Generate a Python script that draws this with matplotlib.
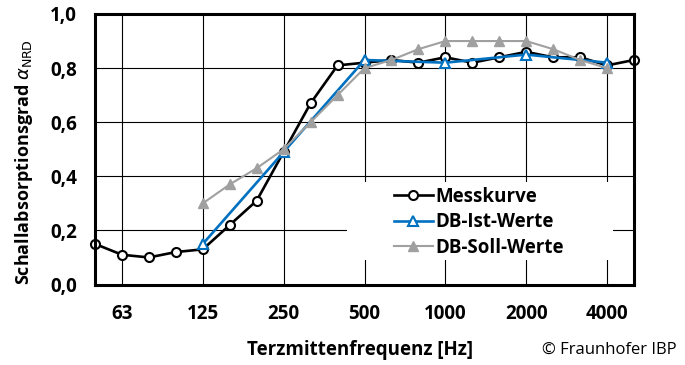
import matplotlib
matplotlib.use("Agg")
import matplotlib.pyplot as plt
from matplotlib.patches import Rectangle

plt.rcParams['font.family'] = ['Open Sans', 'DejaVu Sans']

freqs = ["50", "63", "80", "100", "125", "160", "200", "250", "315", "400", "500",
         "630", "800", "1000", "1250", "1600", "2000", "2500", "3150", "4000", "5000"]
mess = [0.15, 0.11, 0.10, 0.12, 0.13, 0.22, 0.31, 0.49, 0.67, 0.81, 0.82,
        0.83, 0.82, 0.84, 0.82, 0.84, 0.86, 0.84, 0.84, 0.81, 0.83]
ist_freqs = ["125", "250", "500", "1000", "2000", "4000"]
ist = [0.15, 0.49, 0.83, 0.82, 0.85, 0.82]
soll_freqs = ["125", "160", "200", "250", "315", "400", "500", "630", "800",
              "1000", "1250", "1600", "2000", "2500", "3150", "4000"]
soll = [0.30, 0.37, 0.43, 0.50, 0.60, 0.70, 0.80, 0.83, 0.87,
        0.90, 0.90, 0.90, 0.90, 0.87, 0.83, 0.80]
xtick_labels = ["63", "125", "250", "500", "1000", "2000", "4000"]
ytick_vals = [0.0, 0.2, 0.4, 0.6, 0.8, 1.0]

idx = {f: i for i, f in enumerate(freqs)}

fig = plt.figure(figsize=(6.85, 3.65), dpi=100)
ax = fig.add_axes([95/685, 1-284.5/365, 539/685, 270.5/365])

ax.plot([idx[f] for f in freqs], mess, color='black', lw=1.9, marker='o', ms=6.5,
        mfc='white', mec='black', mew=1.5, label='Messkurve', zorder=4, clip_on=False)
ax.plot([idx[f] for f in ist_freqs], ist, color='#0070C0', lw=1.9, marker='^', ms=7.5,
        mfc='white', mec='#0070C0', mew=1.5, label='DB-Ist-Werte', zorder=5, clip_on=False)
ax.plot([idx[f] for f in soll_freqs], soll, color='#A0A0A0', lw=1.5, marker='^', ms=7,
        mfc='#A0A0A0', mec='#A0A0A0', label='DB-Soll-Werte', zorder=6, clip_on=False)

ax.set_xlim(0, len(freqs)-1)
ax.set_ylim(0, 1.0)
ax.set_xticks([idx[f] for f in xtick_labels])
ax.set_xticklabels(xtick_labels)
ax.set_yticks(ytick_vals)
ax.set_yticklabels([f"{v:.1f}".replace('.', ',') for v in ytick_vals])
ax.tick_params(length=0, labelsize=13.5)
ax.tick_params(axis='y', pad=13)
ax.tick_params(axis='x', pad=14)
for lab in ax.get_xticklabels() + ax.get_yticklabels():
    lab.set_fontweight('bold')

ax.grid(True, color='black', lw=0.8)
ax.set_axisbelow(True)
for s in ax.spines.values():
    s.set_linewidth(2.2)
    s.set_zorder(7)

ax.add_patch(Rectangle((0.4675, 0.09), 0.4935, 0.29, transform=ax.transAxes,
                       facecolor='white', edgecolor='none', zorder=2))

leg = ax.legend(loc='upper left', bbox_to_anchor=(0.54, 0.39), frameon=False,
                prop={'weight': 'bold', 'size': 13.5}, handlelength=2.1,
                handletextpad=0.15, labelspacing=0.3, borderaxespad=0)
leg.set_zorder(8)

fig.text(24/685, 1-162/365, r'Schallabsorptionsgrad $\alpha_{\mathrm{NRD}}$', rotation=90,
         ha='center', va='center', fontsize=13, fontweight='bold')
fig.text(360/685, 1-350/365, 'Terzmittenfrequenz [Hz]', ha='center', va='center',
         fontsize=13.5, fontweight='bold')
fig.text(677/685, 1-350/365, '© Fraunhofer IBP', ha='right', va='center', fontsize=12)

fig.savefig('out.png', dpi=100)
